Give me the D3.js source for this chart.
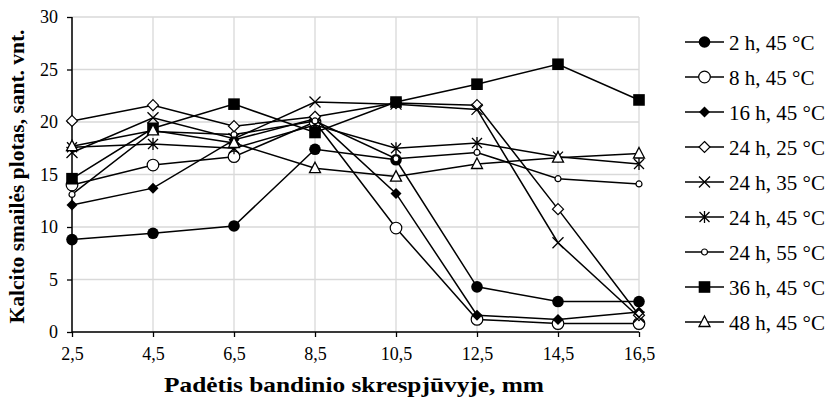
<!DOCTYPE html>
<html>
<head>
<meta charset="utf-8">
<script src="https://cdn.jsdelivr.net/npm/d3@7"></script>
<style>
  body { margin: 0; background: #fff; }
  text { font-family: "Liberation Serif", "Times New Roman", serif; }
</style>
</head>
<body>
<svg id="chart" width="831" height="397"></svg>
<script>
// positions along the sample (mm)
const positions = [2.5, 4.5, 6.5, 8.5, 10.5, 12.5, 14.5, 16.5];
const yTicks = [0, 5, 10, 15, 20, 25, 30];

const seriesNames = ["2 h, 45 °C", "8 h, 45 °C", "16 h, 45 °C", "24 h, 25 °C", "24 h, 35 °C",
                     "24 h, 45 °C", "24 h, 55 °C", "36 h, 45 °C", "48 h, 45 °C"];
const markerTypes = ["circleFilled", "circleOpen", "diamondFilled", "diamondOpen", "cross",
                     "asterisk", "circleSmall", "square", "triangle"];

const s2h45  = [8.8, 9.4, 10.1, 17.4, 16.4, 4.3, 2.9, 2.9];
const s8h45  = [14.0, 15.9, 16.7, 20.0, 9.9, 1.2, 0.8, 0.8];
const s16h45 = [12.1, 13.7, 18.3, 20.3, 13.2, 1.6, 1.2, 1.9];
const s24h25 = [20.1, 21.6, 19.6, 20.5, 21.8, 21.6, 11.7, 1.6];
const s24h35 = [17.1, 20.4, 18.4, 21.9, 21.7, 21.2, 8.5, 1.4];
const s24h45 = [17.6, 17.9, 17.5, 19.7, 17.5, 18.0, 16.7, 16.0];
const s24h55 = [13.1, 19.1, 18.8, 20.1, 16.5, 17.1, 14.6, 14.1];
const s36h45 = [14.6, 19.4, 21.7, 19.0, 21.9, 23.6, 25.5, 22.1];
const s48h45 = [17.7, 19.2, 18.0, 15.6, 14.8, 16.0, 16.6, 17.0];

const allSeries = [s2h45, s8h45, s16h45, s24h25, s24h35, s24h45, s24h55, s36h45, s48h45];

function drawChart(chart_id = "#chart") {
  const svg = d3.select(chart_id);
  const margin = { top: 17, right: 192, bottom: 65, left: 72 };
  const width = +svg.attr("width") - margin.left - margin.right;
  const height = +svg.attr("height") - margin.top - margin.bottom;

  const g = svg.append("g")
    .attr("transform", "translate(" + margin.left + "," + margin.top + ")");

  const xScale = d3.scaleLinear().domain([2.5, 16.5]).range([0, width]);
  const yScale = d3.scaleLinear().domain([0, 30]).range([height, 0]);

  // grid
  g.append("g").selectAll("line.h").data(yTicks).join("line")
    .attr("x1", 0).attr("x2", width)
    .attr("y1", d => yScale(d)).attr("y2", d => yScale(d))
    .attr("stroke", "#d9d9d9").attr("stroke-width", 1.3);
  g.append("g").selectAll("line.v").data(positions).join("line")
    .attr("x1", d => xScale(d)).attr("x2", d => xScale(d))
    .attr("y1", 0).attr("y2", height)
    .attr("stroke", "#d9d9d9").attr("stroke-width", 1.3);

  // axes
  const fmt = d => String(d).replace(".", ",");
  const xAxis = g.append("g")
    .attr("transform", "translate(0," + height + ")")
    .call(d3.axisBottom(xScale).tickValues(positions).tickFormat(fmt).tickSize(5).tickPadding(10));
  const yAxis = g.append("g")
    .call(d3.axisLeft(yScale).tickValues(yTicks).tickSize(5).tickPadding(9));
  [xAxis, yAxis].forEach(ax => {
    ax.select(".domain").attr("stroke", "#000").attr("stroke-width", 1.5);
    ax.selectAll(".tick line").attr("stroke", "#000").attr("stroke-width", 1.3);
    ax.selectAll("text").attr("font-family", "Liberation Serif, serif")
      .attr("font-size", 18).attr("fill", "#000");
  });
  xAxis.select(".domain").attr("d", "M0,0H" + width);
  yAxis.select(".domain").attr("d", "M0," + height + "V0");

  // marker drawing
  function marker(sel, type) {
    const stroke = "#000";
    if (type === "circleFilled") {
      sel.append("circle").attr("r", 5.8).attr("fill", stroke);
    } else if (type === "circleOpen") {
      sel.append("circle").attr("r", 5.8).attr("fill", "#fff").attr("stroke", stroke).attr("stroke-width", 1.2);
    } else if (type === "circleSmall") {
      sel.append("circle").attr("r", 3).attr("fill", "#fff").attr("stroke", stroke).attr("stroke-width", 1.2);
    } else if (type === "diamondFilled") {
      sel.append("path").attr("d", "M0,-5.5L5.5,0L0,5.5L-5.5,0Z").attr("fill", stroke);
    } else if (type === "diamondOpen") {
      sel.append("path").attr("d", "M0,-5.5L5.5,0L0,5.5L-5.5,0Z").attr("fill", "#fff")
        .attr("stroke", stroke).attr("stroke-width", 1.2);
    } else if (type === "cross") {
      sel.append("path").attr("d", "M-5.5,-5.5L5.5,5.5M5.5,-5.5L-5.5,5.5").attr("stroke", stroke).attr("stroke-width", 1.3);
    } else if (type === "asterisk") {
      sel.append("path").attr("d", "M-5,-5L5,5M5,-5L-5,5M0,-6V6").attr("stroke", stroke).attr("stroke-width", 1.3);
    } else if (type === "square") {
      sel.append("rect").attr("x", -5.8).attr("y", -5.8).attr("width", 11.6).attr("height", 11.6).attr("fill", stroke);
    } else if (type === "triangle") {
      sel.append("path").attr("d", "M0,-6L5.5,4.5L-5.5,4.5Z").attr("fill", "#fff")
        .attr("stroke", stroke).attr("stroke-width", 1.3);
    }
  }

  const line = d3.line()
    .x((d, i) => xScale(positions[i]))
    .y(d => yScale(d));

  allSeries.forEach((vals, k) => {
    const sg = g.append("g");
    sg.append("path")
      .datum(vals)
      .attr("fill", "none")
      .attr("stroke", "#000")
      .attr("stroke-width", 1.5)
      .attr("d", line);
    vals.forEach((v, i) => {
      const m = sg.append("g").attr("transform", "translate(" + xScale(positions[i]) + "," + yScale(v) + ")");
      marker(m, markerTypes[k]);
    });
  });

  // legend
  const legend = svg.append("g").attr("transform", "translate(685,42)");
  seriesNames.forEach((name, k) => {
    const item = legend.append("g").attr("transform", "translate(0," + (k * 35) + ")");
    item.append("line").attr("x1", 0).attr("x2", 39).attr("y1", 0).attr("y2", 0)
      .attr("stroke", "#000").attr("stroke-width", 1.5);
    const m = item.append("g").attr("transform", "translate(19.5,0)");
    marker(m, markerTypes[k]);
    item.append("text").attr("x", 44).attr("y", 7.5)
      .attr("font-size", 21).attr("fill", "#000").text(name);
  });

  // axis titles
  svg.append("text")
    .attr("x", 354).attr("y", 392)
    .attr("text-anchor", "middle")
    .attr("font-weight", "bold").attr("font-size", 22)
    .attr("textLength", 380).attr("lengthAdjust", "spacingAndGlyphs")
    .text("Padėtis bandinio skrespjūvyje, mm");

  svg.append("text")
    .attr("transform", "translate(24," + (margin.top + height / 2 + 2) + ") rotate(-90)")
    .attr("text-anchor", "middle")
    .attr("font-weight", "bold").attr("font-size", 20)
    .attr("textLength", 294).attr("lengthAdjust", "spacingAndGlyphs")
    .text("Kalcito smailės plotas, sant. vnt.");
}

drawChart();
</script>
</body>
</html>
